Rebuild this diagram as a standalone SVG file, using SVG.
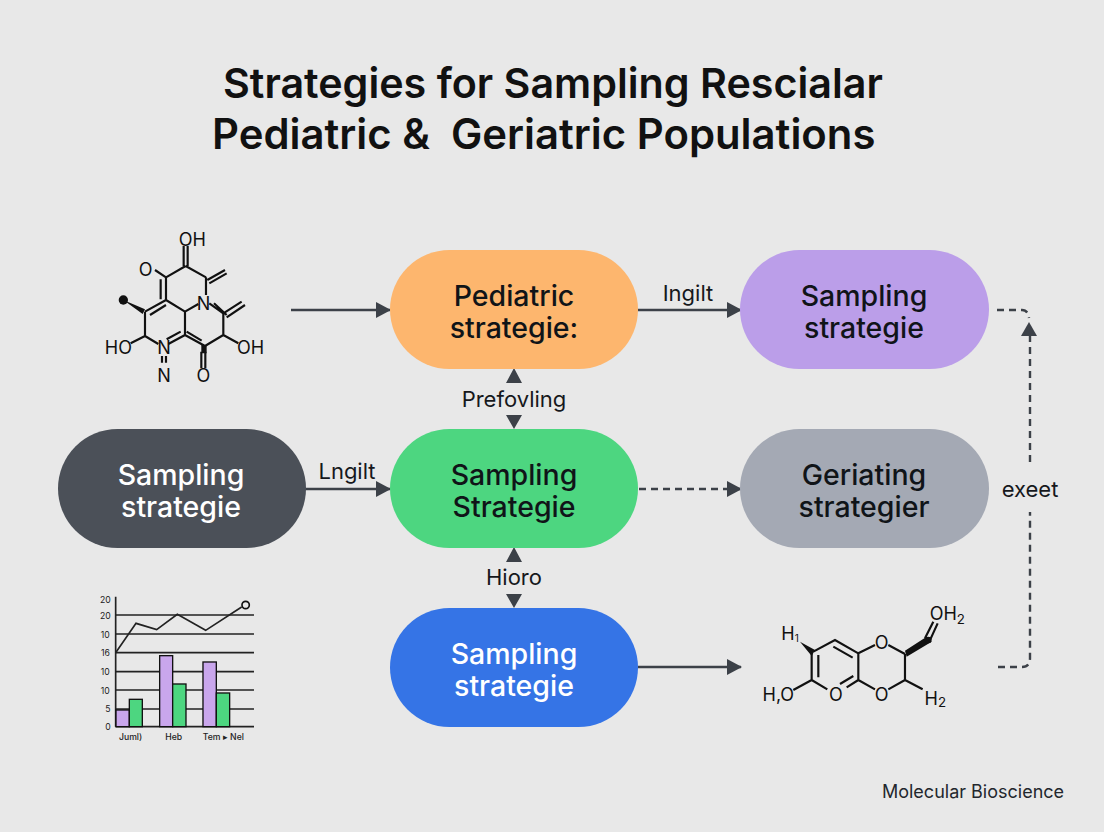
<svg xmlns="http://www.w3.org/2000/svg" width="1104" height="832" viewBox="0 0 1104 832">
<style>
text{font-family:"Inter","Liberation Sans",sans-serif;text-anchor:middle}
.t{font-weight:600;fill:#111;text-anchor:start}
.n{font-size:28.5px;font-weight:500}
.d{fill:#101418}.w{fill:#fff}
.l{font-size:22px;fill:#16181c}
.c{fill:none;stroke:#3c4148;stroke-width:2.4}
.dash{stroke-dasharray:7 5}
.b{fill:none;stroke:#111;stroke-width:6.5}
.a{font-size:54px;fill:#111}
.ax{font-size:26px;fill:#222}
.g{stroke:#222;stroke-width:5;fill:none}
.bar{stroke:#111;stroke-width:4}
</style>
<defs>
<marker id="ah" markerUnits="userSpaceOnUse" markerWidth="15" markerHeight="16" refX="14" refY="8" orient="auto"><path d="M0 0L15 8L0 16Z" fill="#3c4148"/></marker>
</defs>
<rect id="background" width="1104" height="832" fill="#e8e8e8"/>
<g id="title">
<text class="t" x="223" y="98" font-size="41.25">Strategies for Sampling Rescialar</text>
<text class="t" x="212" y="149" font-size="41.85" xml:space="preserve">Pediatric &amp;  Geriatric Populations</text>
</g>
<g id="connectors">
<path class="c" d="M291 310H390" marker-end="url(#ah)"/>
<path class="c" d="M638 310H741" marker-end="url(#ah)"/>
<path class="c" d="M305 489H390" marker-end="url(#ah)"/>
<path class="c dash" d="M639 489H741" marker-end="url(#ah)"/>
<path class="c" d="M638 667H741" marker-end="url(#ah)"/>
<path d="M514 368L522 383H506Z M514 429L522 415H506Z M514 547L522 562H506Z M514 608L522 594H506Z" fill="#3c4148"/>
<path class="c dash" d="M998 667H1022Q1030 667 1030 658V512"/>
<path class="c dash" d="M1030 462V335"/>
<path d="M1029 322L1037 336H1021Z" fill="#3c4148"/>
<path class="c dash" d="M997 310H1022Q1028 310 1029 318"/>
</g>
<g id="label-ingilt"><text class="l" x="688" y="301">Ingilt</text></g>
<g id="label-prefovling"><text class="l" x="514" y="407">Prefovling</text></g>
<g id="label-lngilt"><text class="l" x="347" y="479">Lngilt</text></g>
<g id="label-hioro"><text class="l" x="514" y="585">Hioro</text></g>
<g id="label-exeet"><text class="l" x="1030" y="497">exeet</text></g>
<g id="node-pediatric">
<rect x="390" y="250" width="248" height="119" rx="59.5" fill="#fdb66e"/>
<text class="n d"><tspan x="514" y="306">Pediatric</tspan><tspan x="514" y="338">strategie:</tspan></text>
</g>
<g id="node-sampling-purple">
<rect x="740" y="250" width="249" height="119" rx="59.5" fill="#bb9ee9"/>
<text class="n d"><tspan x="864" y="306">Sampling</tspan><tspan x="864" y="338">strategie</tspan></text>
</g>
<g id="node-sampling-dark">
<rect x="58" y="429" width="248" height="119" rx="59.5" fill="#4b5058"/>
<text class="n w"><tspan x="181" y="485">Sampling</tspan><tspan x="181" y="517">strategie</tspan></text>
</g>
<g id="node-sampling-green">
<rect x="390" y="429" width="248" height="119" rx="59.5" fill="#4dd680"/>
<text class="n d"><tspan x="514" y="485">Sampling</tspan><tspan x="514" y="517">Strategie</tspan></text>
</g>
<g id="node-geriating">
<rect x="740" y="429" width="249" height="119" rx="59.5" fill="#a4a9b4"/>
<text class="n d"><tspan x="864" y="485">Geriating</tspan><tspan x="864" y="517">strategier</tspan></text>
</g>
<g id="node-sampling-blue">
<rect x="390" y="608" width="248" height="119" rx="59.5" fill="#3574e6"/>
<text class="n w"><tspan x="514" y="664">Sampling</tspan><tspan x="514" y="696">strategie</tspan></text>
</g>
<g id="molecule-top" transform="translate(90 220) scale(.3333)">
<path class="b" d="M281 78V138M293 78V138M287 138L228 172M228 172V240M212 178V238M195 150L228 172M287 138L348 172M348 172V225M352 180L405 150M358 190L410 160M228 240L285 275M228 240L165 275M180 285L228 255M165 275V348M165 348L122 370M165 348L205 372M285 275V345M285 275L325 252M358 250L400 280M372 250L410 285M400 280L455 245M410 292L465 255M400 280V345M400 345L345 378M400 345L445 370M345 378L285 345M335 362L290 335M285 345L235 372M272 335L230 358M216 408V428M228 408V428M334 395V445M346 395V445"/>
<path d="M100 240L165 268L158 282Z M334 375H350V400H334Z" fill="#111"/>
<circle cx="100" cy="240" r="14" fill="#111"/>
<text class="a" x="307" y="77">OH</text><text class="a" x="167" y="167">O</text><text class="a" x="341" y="270">N</text><text class="a" x="85" y="402">HO</text><text class="a" x="222" y="402">N</text><text class="a" x="482" y="403">OH</text><text class="a" x="222" y="487">N</text><text class="a" x="340" y="487">O</text>
</g>
<g id="molecule-bottom" transform="translate(750 590) scale(.3333)">
<path class="b" d="M190 185L255 150L325 190M250 170L308 203M185 185V270M205 195V262M185 270L232 298M185 270L130 300M325 190V270M325 190L375 165M415 165L465 192M465 192V270M325 270L375 298M415 298L465 270M465 270L518 298M325 270L290 292M310 258L270 282"/>
<path d="M150 155L195 180L185 198Z M465 182L530 140L545 155L470 200Z" fill="#111"/>
<circle cx="535" cy="150" r="10" fill="#111"/>
<path class="b" d="M525 145L550 95M538 155L563 100"/>
<text class="a" x="120" y="150">H<tspan font-size="30" dy="6">1</tspan></text><text class="a" x="85" y="333">H,O</text><text class="a" x="258" y="333">O</text><text class="a" x="395" y="178">O</text><text class="a" x="395" y="333">O</text><text class="a" x="592" y="90">OH<tspan font-size="40" dy="12">2</tspan></text><text class="a" x="556" y="345">H<tspan font-size="40" dy="6">2</tspan></text>
</g>
<g id="chart" transform="translate(90 585) scale(.3333)">
<path class="g" d="M77 90H492M77 147H492M77 203H492M77 260H492M77 315H492M77 372H492M77 425H492M77 35V425"/>
<g class="bar">
<rect x="78" y="375" width="40" height="50" fill="#c9a6ec"/><rect x="118" y="343" width="39" height="82" fill="#4dd680"/>
<rect x="209" y="212" width="39" height="213" fill="#c9a6ec"/><rect x="248" y="297" width="40" height="128" fill="#4dd680"/>
<rect x="339" y="231" width="40" height="194" fill="#c9a6ec"/><rect x="379" y="324" width="40" height="101" fill="#4dd680"/>
</g>
<path class="g" d="M77 203L138 115L200 134L262 88L347 136L455 66"/>
<circle cx="467" cy="60" r="11" fill="none" stroke="#111" stroke-width="5"/>
<text class="ax" x="46" y="53">20</text><text class="ax" x="46" y="102">20</text><text class="ax" x="46" y="158">10</text><text class="ax" x="46" y="214">16</text><text class="ax" x="46" y="270">10</text><text class="ax" x="46" y="326">10</text><text class="ax" x="54" y="382">5</text><text class="ax" x="54" y="435">0</text>
<text class="ax" x="122" y="466" font-weight="500">Juml)</text><text class="ax" x="251" y="466" font-weight="500">Heb</text><text class="ax" x="400" y="466" font-weight="500">Tem ▸ Nel</text>
</g>
<g id="footer"><text x="973" y="798" font-size="18" fill="#23272d">Molecular Bioscience</text></g>
</svg>
